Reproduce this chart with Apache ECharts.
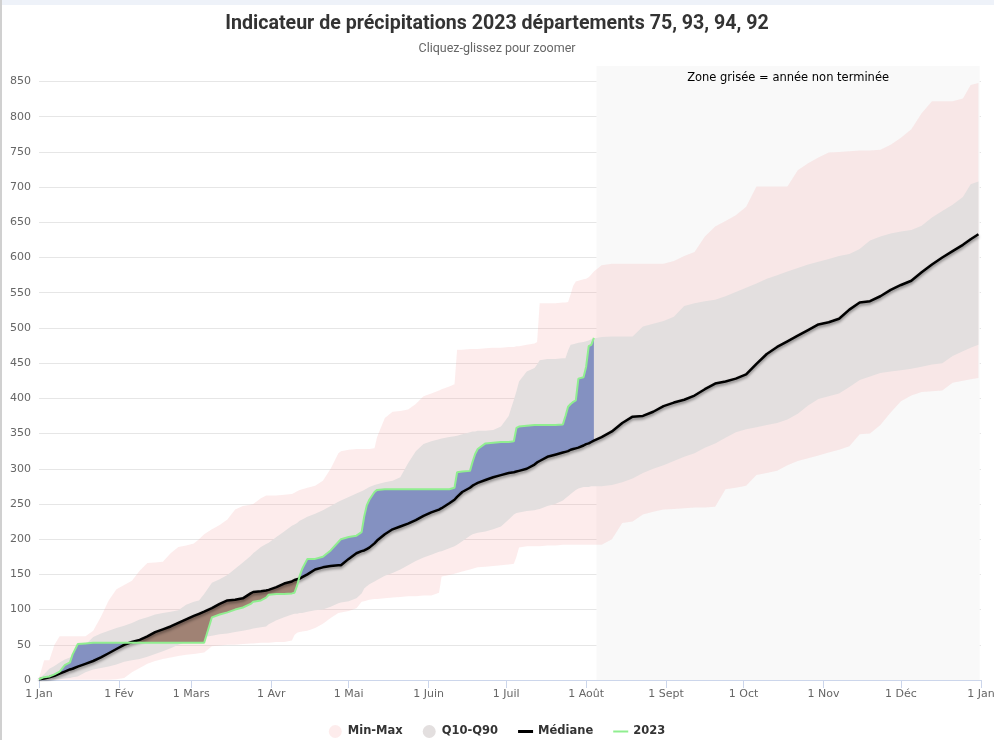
<!DOCTYPE html>
<html><head><meta charset="utf-8">
<script src="https://cdn.jsdelivr.net/npm/echarts@6/dist/echarts.min.js"></script>
<style>
html,body{margin:0;padding:0;background:#fff;}
#chart{position:absolute;left:0;top:0;width:994px;height:740px;}
#topbar{position:absolute;left:0;top:0;width:994px;height:5px;background:#eef2f9;z-index:5;}
#leftbar{position:absolute;left:0;top:0;width:2px;height:740px;background:#d0d0d0;z-index:6;}
</style></head><body>
<div id="chart"></div><div id="topbar"></div><div id="leftbar"></div>
<script>
// Day of year (0 = 1 Jan 2023)
const days = [0,2,4,6,8,10,12,13,15,18,
21,24,27,30,33,36,39,42,45,48,
51,54,57,60,62,64,67,70,73,76,
79,82,83,86,88,89,92,95,98,99,
100,101,102,104,107,110,113,116,117,120,
123,125,126,127,128,130,131,134,137,140,
143,146,149,152,155,156,159,161,162,164,
167,168,169,170,173,176,179,182,184,185,
186,189,192,193,194,197,200,203,204,205,
206,207,208,209,211,212,213,214,215,
218,222,226,230,234,238,242,246,250,254,
258,262,266,270,274,278,282,286,290,294,
298,302,306,310,314,318,322,326,330,334,
338,342,346,350,354,358,361,364];

const precipMax = [3,28,28,50,62,62,62,62,62,62,
70,90,113,129,135,141,155,166,167,168,
180,189,191,194,200,207,214,220,228,242,
247,249,250,258,262,262,262,263,264,266,
268,270,271,273,276,283,300,322,325,327,
328,328,328,328,328,329,345,372,381,382,
384,392,403,407,411,413,417,420,469,469,
470,470,470,470,471,472,472,473,473,474,
474,476,478,480,535,535,535,536,536,537,
548,560,566,567,569,570,572,576,580,
589,591,591,591,591,591,591,595,602,608,
630,644,652,660,672,701,701,701,701,724,
734,742,749,750,751,752,752,753,760,770,
782,805,822,822,822,826,845,848];

const precipQ90 = [2,8,16,20,25,29,32,33,37,50,
61,66,70,74,77,81,86,89,93,95,
97,99,107,111,113,122,138,143,149,158,
167,176,180,189,193,195,203,211,219,221,
223,226,228,232,236,241,247,253,255,260,
265,268,270,272,274,277,278,281,283,288,
308,325,335,339,342,343,345,346,347,349,
352,353,353,354,354,355,360,375,398,410,
424,438,443,448,454,456,456,457,457,468,
476,477,478,479,480,481,482,484,485,
487,488,488,488,502,506,510,516,531,535,
538,540,545,551,557,563,570,575,580,585,
590,594,598,602,605,612,624,630,634,637,
639,645,657,666,675,686,704,708];

const precipQ10 = [1,1,1,1,1,2,3,4,5,11,
15,17,19,22,26,28,30,33,37,41,
45,50,54,57,59,61,63,65,66,68,
70,72,73,75,76,79,85,89,93,94,
94,95,95,97,99,100,104,109,110,112,
116,123,130,133,136,140,142,148,152,157,
163,169,174,178,182,183,187,190,192,197,
205,207,208,209,211,214,218,228,235,237,
238,240,241,242,243,247,250,255,258,261,
264,267,270,272,274,274,274,275,275,
275,277,281,286,294,300,305,311,317,322,
330,336,344,352,356,359,362,365,370,378,
390,399,403,407,416,426,431,436,438,440,
442,445,448,450,460,467,472,476];

const precipMin = [0.2,0.3,0.3,0.4,0.5,0.5,0.5,0.5,0.5,0.5,
0.5,0.5,0.5,1,3,11,17,23,27,30,
32,34,36,37,38,39,48,49,50,50,
51,52,52,53,53,53,54,54,56,64,
67,68,69,70,74,80,88,95,96,98,
102,111,112,113,114,115,115,116,117,118,
119,119,120,120,124,147,149,151,152,154,
157,158,159,160,161,162,163,164,165,175,
188,190,190,190,190,191,191,192,192,192,
192,192,192,192,192,192,192,192,192,
192,200,223,225,235,239,242,243,244,245,
245,246,271,273,276,291,294,297,305,311,
315,319,323,327,332,349,350,362,380,396,
404,409,410,411,422,425,427,429];

const precipMedian = [1,2,4,6,9,12,15,16,19,23,
27,32,38,44,50,54,57,62,68,72,
76,81,86,91,94,97,102,108,113,114,
116,123,125,126,127,128,132,137,140,142,
143,144,146,150,157,160,162,163,163,172,
180,183,184,186,188,194,198,207,214,218,
222,227,233,238,242,244,251,256,260,267,
273,276,278,280,284,288,291,294,295,296,
297,300,306,309,311,317,320,323,324,325,
327,328,329,330,333,335,336,338,340,
345,353,365,374,375,381,389,394,398,404,
413,421,424,428,434,449,463,473,481,489,
497,505,508,513,526,536,538,545,554,561,
567,579,590,600,609,618,626,633];

// 2023 cumulative precipitation (to 4 Aug)
const precip2023 = [1,4,5,8,12,21,25,36,51,52,
53,53,53,53,53,53,53,53,53,53,
53,53,53,53,53,53,89,93,96,100,
103,108,111,113,117,121,122,122,123,124,
134,148,158,172,172,175,184,196,200,203,
205,210,232,248,256,267,270,271,271,271,
271,271,271,271,271,271,271,273,295,296,
297,310,321,328,336,337,338,338,339,358,
360,361,362,362,362,362,362,363,375,388,
392,395,397,428,430,445,474,476,486];

const monthStarts = [0,31,59,90,120,151,181,212,243,273,304,334,365];
const monthLabels = ['1 Jan','1 Fév','1 Mars','1 Avr','1 Mai','1 Juin','1 Juil','1 Août','1 Sept','1 Oct','1 Nov','1 Déc','1 Jan'];
const unfinishedFrom = 216;
const unfinishedTo = 364.5;

const titleText = 'Indicateur de précipitations 2023 départements 75, 93, 94, 92';
const subtitleText = 'Cliquez-glissez pour zoomer';
const zoneText = 'Zone grisée = année non terminée';

// ---- build series data from arrays ----
const T0 = Date.UTC(2023, 0, 1);
const DAY = 86400000;
const toT = d => T0 + d * DAY;
const pair = (xs, ys) => ys.map((y, i) => [toT(xs[i]), y]);
const nObs = precip2023.length;
const obsDays = days.slice(0, nObs);
const medObs = precipMedian.slice(0, nObs);

const PINK = 'rgba(245,160,160,0.2)';
const GRAY = '#e3dfdf';
const BLUE = '#8491c1';
const BROWN = '#a08274';

const hidden = { symbol: 'none', lineStyle: { opacity: 0, width: 0 }, silent: true, type: 'line' };
const FONT_T = "'Liberation Sans Narrow','Arial Narrow',Roboto,sans-serif";

const chart = echarts.init(document.getElementById('chart'));
chart.setOption({
  animation: false,
  backgroundColor: '#fff',
  title: {
    text: titleText, subtext: subtitleText, left: 'center', top: 9, itemGap: 8,
    textStyle: { fontSize: 19.6, fontWeight: 'bold', color: '#333', fontFamily: FONT_T },
    subtextStyle: { fontSize: 12.5, color: '#666', fontFamily: FONT_T }
  },
  legend: {
    top: 720, left: 'center', itemWidth: 15, itemHeight: 13, itemGap: 20,
    textStyle: { fontFamily: 'DejaVu Sans', fontWeight: 'bold', fontSize: 11.5, color: '#333' },
    data: [
      { name: 'Min-Max', icon: 'circle' },
      { name: 'Q10-Q90', icon: 'circle' },
      { name: 'Médiane', icon: 'path://M0,0L15,0L15,3L0,3Z', itemStyle: { color: '#000' } },
      { name: '2023', icon: 'path://M0,0L15,0L15,2L0,2Z', itemStyle: { color: '#90ee90' } }
    ]
  },
  grid: { left: 39, right: 13, top: 66, bottom: 60, outerBoundsMode: 'none' },
  xAxis: [
    { type: 'time', min: toT(0), max: toT(365), show: false, splitLine: { show: false } },
    { type: 'value', min: 0, max: 365, position: 'bottom',
      axisLine: { lineStyle: { color: '#ccd6eb' } },
      axisTick: { customValues: monthStarts, length: 8, lineStyle: { color: '#ccd6eb' } },
      axisLabel: { customValues: monthStarts,
        formatter: v => monthLabels[monthStarts.indexOf(Math.round(v))],
        color: '#666', fontSize: 11, fontFamily: 'DejaVu Sans', margin: 9 },
      splitLine: { show: false } }
  ],
  yAxis: {
    type: 'value', min: 0, max: 872, interval: 50,
    axisLine: { show: false }, axisTick: { show: false },
    splitLine: { lineStyle: { color: '#e6e6e6' }, showMaxLine: false },
    axisLabel: { showMaxLabel: false, color: '#666', fontSize: 11, fontFamily: 'DejaVu Sans', margin: 8,
      formatter: v => (v % 50 === 0 ? String(v) : '') }
  },
  series: [
    { type: 'line', name: 'zone', data: [], z: 1, silent: true,
      markArea: { silent: true, itemStyle: { color: '#f9f9f9' },
        label: { show: true, position: 'insideTop', distance: 6, color: '#000', fontSize: 11.5, fontFamily: 'DejaVu Sans' },
        data: [[{ xAxis: toT(unfinishedFrom), name: zoneText }, { xAxis: toT(unfinishedTo) }]] } },
    Object.assign({}, hidden, { name: '_min', stack: 'mm', data: pair(days, precipMin) }),
    { type: 'line', name: 'Min-Max', stack: 'mm', symbol: 'none', silent: true,
      data: days.map((d, i) => [toT(d), precipMax[i] - precipMin[i]]),
      lineStyle: { width: 0, opacity: 0 }, itemStyle: { color: PINK }, areaStyle: { color: PINK, opacity: 1 } },
    Object.assign({}, hidden, { name: '_q10', stack: 'q', data: pair(days, precipQ10) }),
    { type: 'line', name: 'Q10-Q90', stack: 'q', symbol: 'none', silent: true,
      data: days.map((d, i) => [toT(d), precipQ90[i] - precipQ10[i]]),
      lineStyle: { width: 0, opacity: 0 }, itemStyle: { color: GRAY }, areaStyle: { color: GRAY, opacity: 1 } },
    Object.assign({}, hidden, { name: '_medBase', stack: 'up', data: pair(obsDays, medObs) }),
    { type: 'line', name: '_above', stack: 'up', symbol: 'none', silent: true,
      data: obsDays.map((d, i) => [toT(d), Math.max(0, precip2023[i] - medObs[i])]),
      lineStyle: { width: 0, opacity: 0 }, areaStyle: { color: BLUE, opacity: 1 } },
    Object.assign({}, hidden, { name: '_obsBase', stack: 'down', data: pair(obsDays, precip2023) }),
    { type: 'line', name: '_below', stack: 'down', symbol: 'none', silent: true,
      data: obsDays.map((d, i) => [toT(d), Math.max(0, medObs[i] - precip2023[i])]),
      lineStyle: { width: 0, opacity: 0 }, areaStyle: { color: BROWN, opacity: 1 } },
    { type: 'line', name: 'Médiane', symbol: 'none', data: pair(days, precipMedian),
      itemStyle: { color: '#000' },
      lineStyle: { color: '#000', width: 2.5, shadowColor: 'rgba(0,0,0,0.45)', shadowBlur: 3, shadowOffsetY: 2 } },
    { type: 'line', name: '2023', symbol: 'none', data: pair(obsDays, precip2023),
      itemStyle: { color: '#90ee90' }, lineStyle: { color: '#90ee90', width: 2 } }
  ]
});
</script>
</body></html>
